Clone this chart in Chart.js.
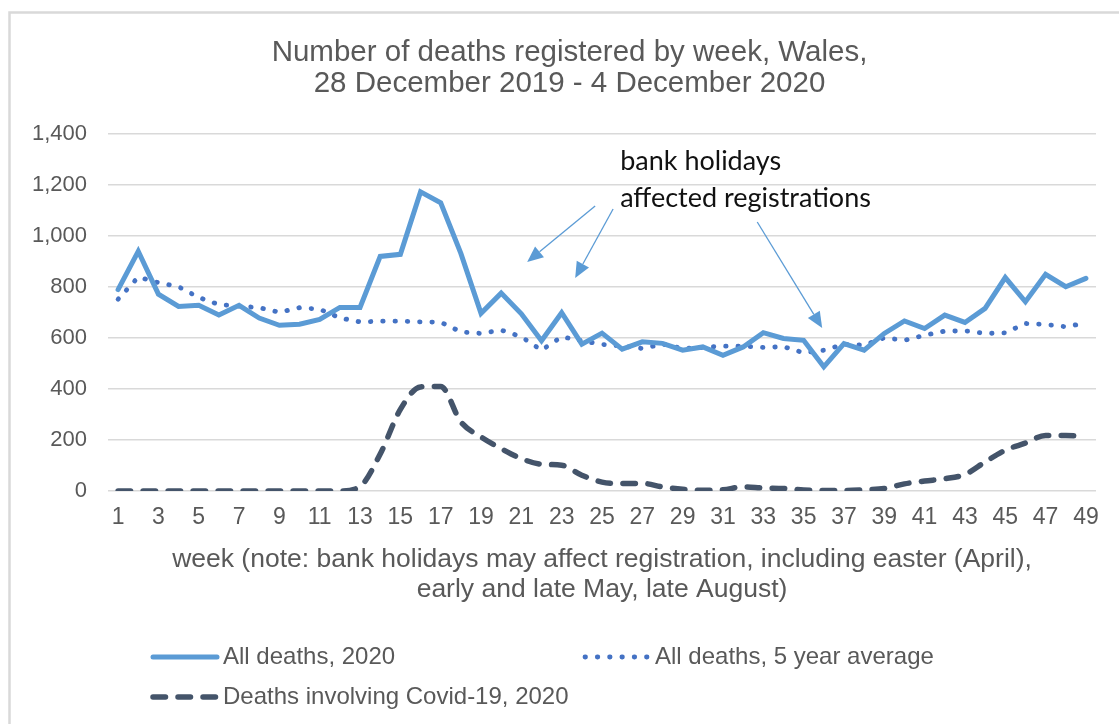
<!DOCTYPE html>
<html lang="en">
<head>
  <meta charset="UTF-8" />
  <title>Number of deaths registered by week, Wales</title>
  <script src="https://cdn.jsdelivr.net/npm/chart.js"></script>
  <style>
    body {
      margin: 0;
      background: #fff;
    }
    canvas {
      display: block;
    }
  </style>
</head>
<body>
  <canvas id="chart" width="1119" height="724"></canvas>

  <script>
    const weeks = ['1', '2', '3', '4', '5', '6', '7', '8', '9', '10',
      '11', '12', '13', '14', '15', '16', '17', '18', '19', '20',
      '21', '22', '23', '24', '25', '26', '27', '28', '29', '30',
      '31', '32', '33', '34', '35', '36', '37', '38', '39', '40',
      '41', '42', '43', '44', '45', '46', '47', '48', '49'];

    const allDeaths2020 = [790, 940, 772, 724, 728, 690, 728, 678, 650, 654,
      673, 720, 720, 920, 928, 1173, 1130, 932, 697, 776,
      695, 589, 699, 576, 619, 556, 585, 579, 552, 565,
      532, 565, 621, 598, 591, 487, 578, 552, 618, 667,
      637, 690, 661, 716, 837, 742, 850, 801, 834];

    const allDeathsAvg = [752, 839, 817, 801, 759, 731, 725, 719, 701, 719,
      713, 679, 663, 666, 666, 663, 662, 624, 618, 631,
      605, 552, 605, 589, 575, 568, 559, 576, 559, 563,
      568, 568, 563, 566, 542, 552, 575, 572, 601, 591,
      611, 627, 628, 618, 620, 657, 653, 644, 659];

    const covidDeaths = [0, 0, 0, 0, 0, 0, 0, 0, 0, 0,
      0, 0, 18, 145, 320, 408, 410, 271, 212, 166,
      127, 105, 101, 62, 35, 29, 30, 16, 7, 3,
      5, 16, 12, 10, 4, 2, 2, 5, 10, 28,
      39, 48, 65, 114, 160, 188, 218, 218, 212];

    const yTicks = [0, 200, 400, 600, 800, 1000, 1200, 1400];

    const titleLines = ['Number of deaths registered by week, Wales,', '28 December 2019 - 4 December 2020'];
    const axisTitleLines = ['week (note: bank holidays may affect registration, including easter (April),',
      'early and late May, late August)'];
    const noteLines = ['bank holidays', 'affected registrations'];

    // note and arrows are placed in axis units (category index, deaths)
    const notePos = { x: 24.9, y: [1292, 1147] };
    const arrowFrom = [[23.66, 1118], [24.55, 1106], [31.7, 1055]];
    const arrowTo = [[20.29, 898], [22.67, 835], [34.92, 639]];

    const GREY = '#595959';
    const FONT = "'Liberation Sans', Arial, sans-serif";

    // white background, the thin frame along the top and left, and the title
    const frame = {
      id: 'frame',
      beforeDraw(chart) {
        const ctx = chart.ctx;
        ctx.save();
        ctx.fillStyle = '#fff';
        ctx.fillRect(0, 0, chart.width, chart.height);
        ctx.strokeStyle = '#d9d9d9';
        ctx.lineWidth = 2.5;
        ctx.beginPath();
        ctx.moveTo(9.5, chart.height);
        ctx.lineTo(9.5, 12.5);
        ctx.lineTo(chart.width, 12.5);
        ctx.stroke();

        ctx.fillStyle = GREY;
        ctx.font = '29.5px ' + FONT;
        ctx.textAlign = 'center';
        ctx.textBaseline = 'middle';
        titleLines.forEach((t, i) => ctx.fillText(t, 569.5, 52.5 + i * 31));
        ctx.restore();
      }
    };

    const notes = {
      id: 'notes',
      afterDatasetsDraw(chart) {
        const { ctx, scales: { x, y } } = chart;
        ctx.save();
        ctx.strokeStyle = '#5b9bd5';
        ctx.fillStyle = '#5b9bd5';
        ctx.lineWidth = 1.3;
        arrowFrom.forEach((from, i) => {
          const x0 = x.getPixelForValue(from[0]), y0 = y.getPixelForValue(from[1]);
          const x1 = x.getPixelForValue(arrowTo[i][0]), y1 = y.getPixelForValue(arrowTo[i][1]);
          const ang = Math.atan2(y1 - y0, x1 - x0);
          const len = 16, half = 7;
          const bx = x1 - len * Math.cos(ang), by = y1 - len * Math.sin(ang);
          ctx.beginPath();
          ctx.moveTo(x0, y0);
          ctx.lineTo(bx, by);
          ctx.stroke();
          ctx.beginPath();
          ctx.moveTo(x1, y1);
          ctx.lineTo(bx + half * Math.sin(ang), by - half * Math.cos(ang));
          ctx.lineTo(bx - half * Math.sin(ang), by + half * Math.cos(ang));
          ctx.closePath();
          ctx.fill();
        });
        ctx.fillStyle = '#111';
        ctx.font = "27px Lato, 'Open Sans', sans-serif";
        ctx.textBaseline = 'middle';
        noteLines.forEach((t, i) => {
          ctx.fillText(t, x.getPixelForValue(notePos.x), y.getPixelForValue(notePos.y[i]));
        });
        ctx.restore();
      }
    };

    // legend laid out in two rows under the axis title
    const legendSpots = [[150, 657], [582, 657], [150, 697]];
    const legend = {
      id: 'customLegend',
      afterDraw(chart) {
        const ctx = chart.ctx;
        ctx.save();
        ctx.font = '24px ' + FONT;
        ctx.textBaseline = 'middle';
        chart.data.datasets.forEach((ds, i) => {
          const [lx, ly] = legendSpots[i];
          ctx.strokeStyle = ds.borderColor;
          ctx.lineWidth = ds.borderWidth;
          ctx.lineCap = ds.borderCapStyle;
          ctx.setLineDash(ds.borderDash || []);
          ctx.beginPath();
          ctx.moveTo(lx + 3, ly);
          ctx.lineTo(lx + 67, ly);
          ctx.stroke();
          ctx.setLineDash([]);
          ctx.fillStyle = GREY;
          ctx.fillText(ds.label, lx + 73, ly);
        });
        ctx.restore();
      }
    };

    new Chart(document.getElementById('chart'), {
      type: 'line',
      data: {
        labels: weeks,
        datasets: [
          {
            label: 'All deaths, 2020',
            data: allDeaths2020,
            borderColor: '#5b9bd5',
            borderWidth: 5,
            borderCapStyle: 'round',
            borderJoinStyle: 'miter',
            pointRadius: 0,
            tension: 0
          },
          {
            label: 'All deaths, 5 year average',
            data: allDeathsAvg,
            borderColor: '#4472c4',
            borderWidth: 4.8,
            borderCapStyle: 'round',
            borderDash: [0.5, 11.8],
            pointRadius: 0,
            tension: 0
          },
          {
            label: 'Deaths involving Covid-19, 2020',
            data: covidDeaths,
            borderColor: '#44546a',
            borderWidth: 5.5,
            borderCapStyle: 'round',
            borderDash: [12.5, 12.5],
            pointRadius: 0,
            tension: 0.4,
            cubicInterpolationMode: 'monotone'
          }
        ]
      },
      options: {
        responsive: false,
        animation: false,
        devicePixelRatio: 1,
        layout: { padding: { left: 0, right: 23, top: 134, bottom: 114 } },
        plugins: {
          legend: { display: false },
          tooltip: { enabled: false },
          title: { display: false }
        },
        scales: {
          x: {
            offset: true,
            grid: { display: false, drawTicks: false },
            border: { display: false },
            ticks: {
              color: GREY,
              font: { family: FONT, size: 23 },
              padding: 13,
              autoSkip: false,
              maxRotation: 0,
              callback: (v, i) => (i % 2 === 0 ? weeks[i] : '')
            },
            title: {
              display: true,
              text: axisTitleLines,
              color: GREY,
              font: { family: FONT, size: 26.5, lineHeight: '30px' },
              padding: { top: 0, bottom: 5 }
            },
            afterFit(scale) { scale.height = 119; }
          },
          y: {
            min: 0,
            max: 1400,
            afterBuildTicks(scale) { scale.ticks = yTicks.map(v => ({ value: v })); },
            grid: { color: '#d9d9d9', lineWidth: 1.5, drawTicks: false },
            border: { display: false },
            ticks: {
              color: GREY,
              font: { family: FONT, size: 22 },
              padding: 21,
              callback: v => v.toLocaleString('en-US')
            },
            afterFit(scale) { scale.width = 108; }
          }
        }
      },
      plugins: [frame, notes, legend]
    });
  </script>
</body>
</html>
